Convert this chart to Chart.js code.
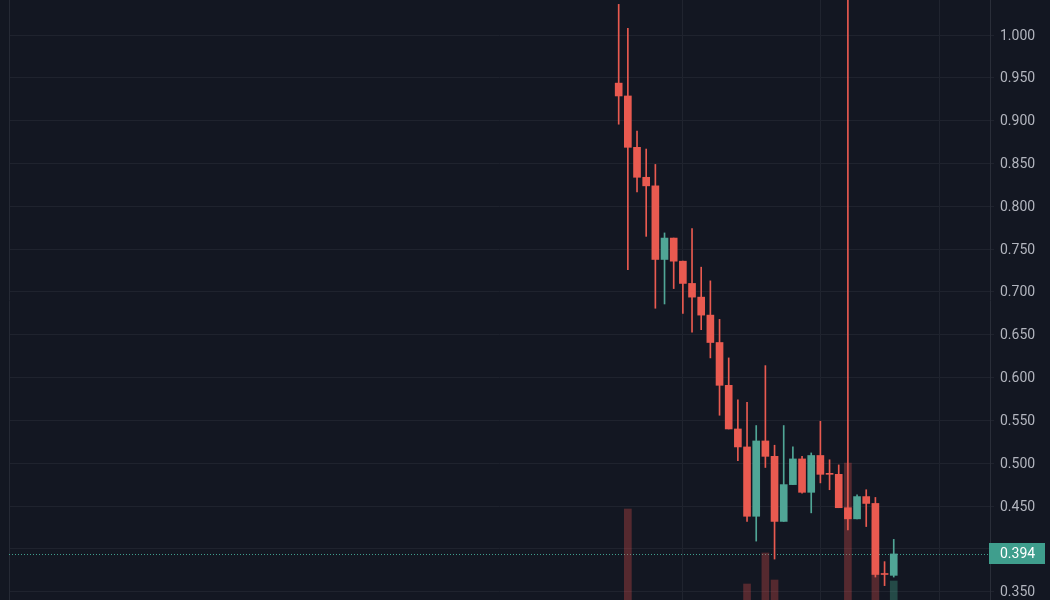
<!DOCTYPE html>
<html>
<head>
<meta charset="utf-8">
<script src="https://cdn.jsdelivr.net/npm/chart.js@4.4.0/dist/chart.umd.min.js"></script>
<style>
  html, body { margin: 0; padding: 0; background: #131722; }
  #chart { display: block; }
</style>
</head>
<body>
<canvas id="chart" width="1050" height="600"></canvas>
<script>
// Candles, oldest first
const opens  = [0.944, 0.929, 0.869, 0.834, 0.824, 0.738, 0.763, 0.736, 0.710, 0.694,
                0.673, 0.641, 0.591, 0.540, 0.519, 0.438, 0.526, 0.508, 0.432, 0.475,
                0.505, 0.466, 0.509, 0.488, 0.487, 0.448, 0.435, 0.461, 0.453, 0.371, 0.369];
const highs  = [1.036, 1.008, 0.888, 0.867, 0.849, 0.769, 0.763, 0.736, 0.774, 0.729,
                0.713, 0.668, 0.623, 0.574, 0.571, 0.544, 0.614, 0.521, 0.544, 0.519,
                0.508, 0.512, 0.549, 0.504, 0.498, 1.060, 0.463, 0.469, 0.460, 0.385, 0.411];
const lows   = [0.896, 0.726, 0.817, 0.765, 0.681, 0.686, 0.704, 0.675, 0.653, 0.656,
                0.623, 0.556, 0.540, 0.503, 0.432, 0.409, 0.495, 0.388, 0.432, 0.475,
                0.465, 0.442, 0.477, 0.469, 0.448, 0.422, 0.435, 0.426, 0.367, 0.357, 0.367];
const closes = [0.929, 0.869, 0.834, 0.824, 0.738, 0.763, 0.736, 0.710, 0.694, 0.673,
                0.641, 0.591, 0.540, 0.519, 0.438, 0.526, 0.508, 0.432, 0.475, 0.505,
                0.466, 0.509, 0.487, 0.487, 0.448, 0.435, 0.461, 0.453, 0.370, 0.370, 0.394];
// only the volume bars that rise into view; the rest are hidden below the frame
const volumes = [null, 91, null, null, null, null, null, null, null, null,
                 null, null, null, null, 16, null, 47, 20, null, null,
                 null, null, null, null, null, 137, null, null, 80, null, 19];

const priceTicks = [1.000, 0.950, 0.900, 0.850, 0.800, 0.750, 0.700, 0.650,
                    0.600, 0.550, 0.500, 0.450, 0.400, 0.350];
// candle numbers where a time gridline falls (35 is past the last candle)
const timeGridCandles = [7, 22, 35];

const emptyBefore = 66;
const emptyAfter = 10;

const UP = '#50a696';
const DOWN = '#e95a50';

const slotCount = emptyBefore + opens.length + emptyAfter;
const labels = Array.from({ length: slotCount }, (_, i) => String(i - emptyBefore));

function toSlots(values) {
    const out = new Array(slotCount).fill(null);
    values.forEach((v, i) => { out[emptyBefore + i] = v; });
    return out;
}

// the two dojis print red
const isUp = closes.map((c, i) => c >= opens[i] && i !== 23 && i !== 29);
const candleColors = toSlots(isUp.map(u => u ? UP : DOWN));
const volColors = toSlots(isUp.map(u => u ? 'rgba(70,170,140,0.35)' : 'rgba(239,83,80,0.3)'));

const wickData = toSlots(lows.map((l, i) => [l, highs[i]]));
const bodyData = toSlots(opens.map((o, i) => [o, closes[i]]));
const volData = toSlots(volumes);
const gridSlots = timeGridCandles.map(c => c + emptyBefore);

const lastClose = closes[closes.length - 1];

function noEdgePadding(axis) {
    axis.paddingTop = 0;
    axis.paddingBottom = 0;
}

const lastPricePlugin = {
    id: 'lastPrice',
    beforeDatasetsDraw(chart) {
        const { ctx, chartArea } = chart;
        const y = Math.round(chart.scales.y.getPixelForValue(lastClose)) + 0.5;
        ctx.save();
        ctx.strokeStyle = '#3f9e8d';
        ctx.lineWidth = 1;
        ctx.setLineDash([1, 2]);
        ctx.beginPath();
        ctx.moveTo(chartArea.left, y);
        ctx.lineTo(chartArea.right, y);
        ctx.stroke();
        ctx.restore();
    },
    afterDraw(chart) {
        const { ctx, chartArea } = chart;
        const y = chart.scales.y.getPixelForValue(lastClose);
        ctx.save();
        ctx.fillStyle = '#3f9e8d';
        ctx.fillRect(chartArea.right - 1, Math.round(y - 10.5), 56, 21);
        ctx.fillStyle = '#ffffff';
        ctx.font = '14px Roboto';
        ctx.textBaseline = 'middle';
        ctx.fillText(lastClose.toFixed(3), chartArea.right + 10, y + 1);
        ctx.restore();
    }
};

new Chart(document.getElementById('chart'), {
    type: 'bar',
    data: {
        labels: labels,
        datasets: [
            {
                label: 'Volume',
                data: volData,
                yAxisID: 'vol',
                backgroundColor: volColors,
                barThickness: 7,
                grouped: false,
                order: 2
            },
            {
                label: 'Wick',
                data: wickData,
                yAxisID: 'y',
                backgroundColor: candleColors,
                barThickness: 1,
                grouped: false,
                order: 1
            },
            {
                label: 'Body',
                data: bodyData,
                yAxisID: 'y',
                backgroundColor: candleColors,
                barThickness: 7,
                minBarLength: 1,
                grouped: false,
                order: 0
            }
        ]
    },
    options: {
        responsive: false,
        animation: false,
        devicePixelRatio: 1,
        layout: { padding: 0 },
        plugins: {
            legend: { display: false },
            tooltip: { enabled: false }
        },
        scales: {
            x: {
                type: 'category',
                ticks: { display: false },
                border: { display: false },
                grid: {
                    offset: false,
                    drawTicks: false,
                    color: ctx => gridSlots.includes(ctx.index) ? '#20242f' : 'rgba(0,0,0,0)'
                },
                afterFit: axis => { axis.height = 0; axis.paddingLeft = 0; axis.paddingRight = 0; }
            },
            yl: {
                position: 'left',
                ticks: { display: false },
                grid: { drawOnChartArea: false, drawTicks: false },
                border: { color: '#262a35', width: 1 },
                afterFit: axis => { axis.width = 9; noEdgePadding(axis); }
            },
            y: {
                position: 'right',
                min: 0.3402,
                max: 1.0411,
                afterBuildTicks: axis => { axis.ticks = priceTicks.map(v => ({ value: v })); },
                ticks: {
                    color: '#b2b5be',
                    font: { family: 'Roboto', size: 14 },
                    padding: 6,
                    labelOffset: 1,
                    // the last-price badge hides any label it would overlap
                    callback: v => Math.abs(v - lastClose) < 0.015 ? '' : Number(v).toFixed(3)
                },
                grid: { color: '#1f232e', tickLength: 4 },
                border: { color: '#2a2e39' },
                afterFit: axis => { axis.width = 60; noEdgePadding(axis); }
            },
            vol: {
                display: false,
                min: 0,
                max: 600
            }
        }
    },
    plugins: [lastPricePlugin]
});
</script>
</body>
</html>
